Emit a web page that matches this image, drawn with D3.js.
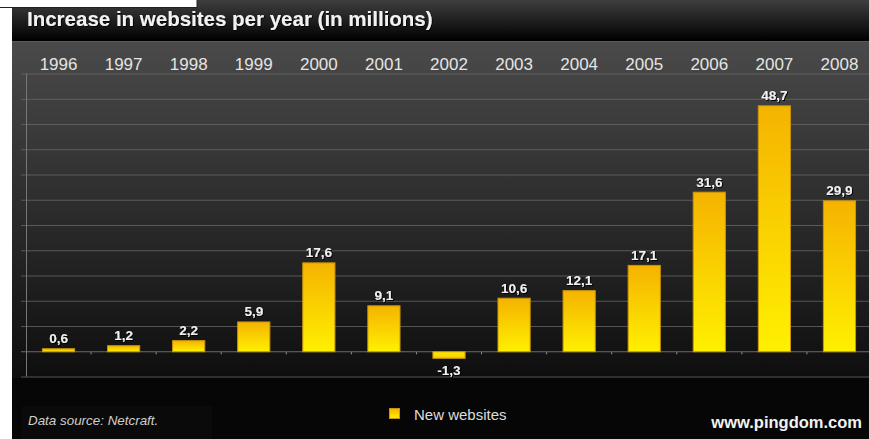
<!DOCTYPE html>
<html>
<head>
<meta charset="utf-8">
<script src="https://cdn.jsdelivr.net/npm/d3@7/dist/d3.min.js"></script>
<style>
  html, body { margin: 0; padding: 0; background: #fff; }
  svg { display: block; font-family: "Liberation Sans", Arial, sans-serif; }
</style>
</head>
<body>
<svg id="chart" width="869" height="439"></svg>
<script>
// Yearly growth in number of websites (millions), source: Netcraft
const years = ["1996","1997","1998","1999","2000","2001","2002","2003","2004","2005","2006","2007","2008"];
const newSites = [0.6, 1.2, 2.2, 5.9, 17.6, 9.1, -1.3, 10.6, 12.1, 17.1, 31.6, 48.7, 29.9];
const gridTicks = [-5, 0, 5, 10, 15, 20, 25, 30, 35, 40, 45, 50, 55];

const svg = d3.select("#chart");
const W = 869, H = 439;
const panelX = 12;

const defs = svg.append("defs");
const tg = defs.append("linearGradient").attr("id", "titleGrad").attr("x1", 0).attr("y1", 0).attr("x2", 0).attr("y2", 1);
tg.append("stop").attr("offset", "0%").attr("stop-color", "#3e3e3e");
tg.append("stop").attr("offset", "100%").attr("stop-color", "#000");

const pg = defs.append("linearGradient").attr("id", "plotGrad").attr("x1", 0).attr("y1", 0).attr("x2", 0).attr("y2", 1);
pg.append("stop").attr("offset", "0%").attr("stop-color", "#4a4a4a");
pg.append("stop").attr("offset", "100%").attr("stop-color", "#0e0e0e");

const bg = defs.append("linearGradient").attr("id", "barGrad").attr("x1", 0).attr("y1", 0).attr("x2", 0).attr("y2", 1);
bg.append("stop").attr("offset", "0%").attr("stop-color", "#f5b300");
bg.append("stop").attr("offset", "100%").attr("stop-color", "#fff000");

const negGrad = defs.append("linearGradient").attr("id", "negGrad").attr("x1", 0).attr("y1", 0).attr("x2", 0).attr("y2", 1);
negGrad.append("stop").attr("offset", "0%").attr("stop-color", "#ffee00");
negGrad.append("stop").attr("offset", "100%").attr("stop-color", "#f7c800");

const shadow = defs.append("filter").attr("id", "txtShadow").attr("x", "-20%").attr("y", "-20%").attr("width", "140%").attr("height", "160%");
shadow.append("feDropShadow").attr("dx", 1).attr("dy", 1).attr("stdDeviation", 0.6).attr("flood-color", "#000").attr("flood-opacity", 0.9);

// Background panels
svg.append("rect").attr("x", panelX).attr("y", 0).attr("width", W - panelX).attr("height", H).attr("fill", "#060606");
svg.append("rect").attr("x", panelX).attr("y", 42).attr("width", W - panelX).attr("height", 336).attr("fill", "url(#plotGrad)");
svg.append("rect").attr("x", panelX).attr("y", 0).attr("width", W - panelX).attr("height", 41).attr("fill", "url(#titleGrad)");
svg.append("line").attr("x1", panelX).attr("x2", W).attr("y1", 41.5).attr("y2", 41.5).attr("stroke", "#5a5a5a").attr("stroke-width", 1);

// Small white label box in the corner
svg.append("rect").attr("x", -1).attr("y", -1).attr("width", 198).attr("height", 8.5)
  .attr("fill", "#fff").attr("stroke", "#222").attr("stroke-width", 1);

// Title
svg.append("text").attr("x", 27).attr("y", 26)
  .attr("fill", "#f2f2f2").attr("font-size", 20.5).attr("font-weight", "bold")
  .attr("filter", "url(#txtShadow)")
  .text("Increase in websites per year (in millions)");

// Scales
const x = d3.scaleBand().domain(years).range([26, 872]).paddingInner(0.49).paddingOuter(0.245);
const y = d3.scaleLinear().domain([-5, 55]).range([376.5, 73.5]);

// Gridlines
const grid = svg.append("g");
grid.selectAll("line").data(gridTicks).join("line")
  .attr("x1", 21).attr("x2", W)
  .attr("y1", d => y(d) + 0.5).attr("y2", d => y(d) + 0.5)
  .attr("stroke", d => d === 0 ? "#8a8a8a" : "#6a6a6a")
  .attr("stroke-opacity", 0.75)
  .attr("stroke-width", 1);
grid.append("line").attr("x1", 26.5).attr("x2", 26.5).attr("y1", y(55)).attr("y2", y(-5))
  .attr("stroke", "#777").attr("stroke-width", 1);

// Year labels along the top
const xAxis = d3.axisTop(x).tickSize(0).tickPadding(0);
const xa = svg.append("g").attr("transform", "translate(0,70)").call(xAxis);
xa.select(".domain").remove();
xa.selectAll("text").attr("fill", "#e4e4e4").attr("font-size", 17)
  .attr("font-family", "'Liberation Sans', Arial, sans-serif").attr("dy", 0);

// Category separators on the zero line
svg.append("g").selectAll("line").data(years.slice(1)).join("line")
  .attr("x1", d => x(d) - x.step() * x.paddingInner() / 2)
  .attr("x2", d => x(d) - x.step() * x.paddingInner() / 2)
  .attr("y1", y(0) + 1).attr("y2", y(0) + 3)
  .attr("stroke", "#999").attr("stroke-width", 1);

// Bars
svg.append("g").selectAll("rect").data(newSites).join("rect")
  .attr("x", (d, i) => x(years[i]) + 0.5)
  .attr("width", x.bandwidth() - 1)
  .attr("y", d => (d >= 0 ? y(d) : y(0)) + 0.5)
  .attr("height", d => Math.abs(y(d) - y(0)))
  .attr("fill", d => d >= 0 ? "url(#barGrad)" : "url(#negGrad)")
  .attr("stroke", "#c8940a").attr("stroke-width", 1);

// Value labels
const fmt = v => String(v).replace(".", ",");
svg.append("g").selectAll("text").data(newSites).join("text")
  .attr("x", (d, i) => x(years[i]) + x.bandwidth() / 2)
  .attr("y", d => d >= 0 ? y(d) - 5 : y(d) + 17)
  .attr("text-anchor", "middle")
  .attr("fill", "#f0f0f0").attr("font-size", 13.5).attr("font-weight", "bold")
  .attr("filter", "url(#txtShadow)")
  .text(fmt);

// Footer
svg.append("rect").attr("x", 22).attr("y", 406).attr("width", 190).attr("height", 33).attr("fill", "#0a0a0a");
svg.append("text").attr("x", 28).attr("y", 425)
  .attr("fill", "#cfcfcf").attr("font-size", 13.4).attr("font-style", "italic")
  .text("Data source: Netcraft.");

const legend = svg.append("g").attr("transform", "translate(389,408)");
legend.append("rect").attr("x", 0.5).attr("y", 0.5).attr("width", 10).attr("height", 10)
  .attr("fill", "url(#barGrad)").attr("stroke", "#c8940a");
legend.append("text").attr("x", 25).attr("y", 11.5)
  .attr("fill", "#dcdcdc").attr("font-size", 15).text("New websites");

svg.append("text").attr("x", 862).attr("y", 428).attr("text-anchor", "end")
  .attr("fill", "#f2f2f2").attr("font-size", 16.5).attr("font-weight", "bold")
  .text("www.pingdom.com");
</script>
</body>
</html>
